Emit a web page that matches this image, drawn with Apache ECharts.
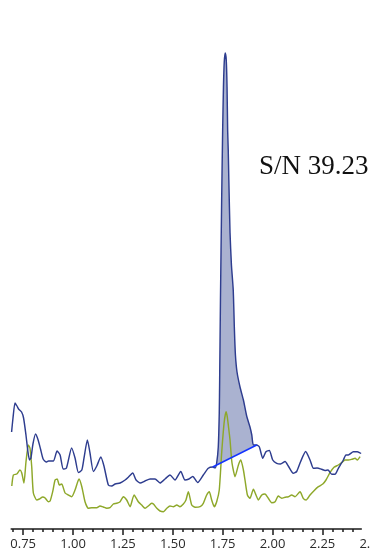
<!DOCTYPE html>
<html>
<head>
<meta charset="utf-8">
<script src="https://cdn.jsdelivr.net/npm/echarts@6/dist/echarts.min.js"></script>
<style>
  html, body { margin: 0; padding: 0; background: #ffffff; }
  #chart { width: 371px; height: 552px; }
</style>
</head>
<body>
<div id="chart"></div>
<script>
// Retention time (min) and detector response of the sample trace
const sampleTime = [
  0.692, 0.699, 0.709, 0.719, 0.727, 0.742, 0.752, 0.764, 0.774, 0.782, 0.789, 0.799,
  0.812, 0.825, 0.837, 0.850, 0.865, 0.877, 0.890, 0.902, 0.920, 0.935, 0.951, 0.967,
  0.993, 1.010, 1.027, 1.044, 1.055, 1.072, 1.085, 1.102, 1.119, 1.139, 1.155, 1.177,
  1.194, 1.211, 1.236, 1.261, 1.278, 1.299, 1.316, 1.336, 1.361, 1.386, 1.411, 1.436,
  1.461, 1.486, 1.511, 1.540, 1.561, 1.581, 1.600, 1.625, 1.653, 1.678, 1.700, 1.712,
  1.720, 1.728, 1.733, 1.735, 1.739, 1.745, 1.750, 1.754, 1.758, 1.763, 1.768, 1.772,
  1.775, 1.778, 1.781, 1.787, 1.794, 1.803, 1.809, 1.814, 1.822, 1.837, 1.854, 1.871,
  1.887, 1.896, 1.904, 1.921, 1.934, 1.951, 1.967, 1.984, 2.001, 2.021, 2.040, 2.063,
  2.079, 2.104, 2.121, 2.141, 2.166, 2.188, 2.205, 2.223, 2.247, 2.263, 2.278, 2.297,
  2.313, 2.330, 2.355, 2.368, 2.380, 2.405, 2.425, 2.444
];
const sampleSignal = [
  97, 111, 126, 123, 120, 117, 111, 94, 77, 69, 71, 85,
  95, 89, 80, 70, 67, 68, 68, 68, 78, 74, 60, 61,
  81, 71, 56.5, 59, 71, 89, 76, 57.5, 63, 72, 63, 44,
  43, 45, 46, 49, 52, 56, 49, 46, 48, 50, 50, 46,
  50, 54, 49, 57.5, 49, 50, 52.5, 46.5, 54, 60.7, 62, 61,
  66, 82, 116, 149, 229, 329, 399, 442, 467, 476, 469, 442,
  399, 379, 349, 296, 264, 239, 199, 174, 157, 142, 129, 112.5,
  102, 94, 84, 84, 82, 70.7, 77.3, 78.5, 69, 65.7, 65, 67.5,
  63, 55.7, 57.5, 67.5, 77.5, 69, 60.7, 61, 59.7, 58.5, 59, 54.7,
  54.7, 60.7, 69, 74, 74, 77.3, 77.3, 75.5
];

// Retention time (min) and detector response of the blank trace
const blankTime = [
  0.693, 0.701, 0.718, 0.734, 0.743, 0.754, 0.764, 0.776, 0.784, 0.793, 0.801, 0.818,
  0.831, 0.848, 0.860, 0.876, 0.885, 0.898, 0.910, 0.921, 0.931, 0.943, 0.960, 0.976,
  0.993, 1.010, 1.030, 1.044, 1.060, 1.077, 1.094, 1.119, 1.135, 1.152, 1.169, 1.185,
  1.202, 1.219, 1.236, 1.252, 1.269, 1.286, 1.306, 1.327, 1.344, 1.361, 1.377, 1.394,
  1.403, 1.420, 1.436, 1.453, 1.470, 1.486, 1.503, 1.520, 1.536, 1.553, 1.566, 1.578,
  1.595, 1.612, 1.637, 1.653, 1.670, 1.683, 1.695, 1.708, 1.720, 1.733, 1.745, 1.757,
  1.767, 1.773, 1.783, 1.787, 1.795, 1.800, 1.812, 1.829, 1.841, 1.854, 1.862, 1.874,
  1.887, 1.904, 1.917, 1.929, 1.946, 1.962, 1.979, 1.996, 2.013, 2.029, 2.046, 2.063,
  2.079, 2.096, 2.113, 2.138, 2.154, 2.168, 2.188, 2.208, 2.230, 2.252, 2.268, 2.288,
  2.308, 2.330, 2.347, 2.363, 2.380, 2.397, 2.414, 2.425, 2.439
];
const blankSignal = [
  43, 54, 55, 59, 56, 46, 67, 84, 81, 62, 36, 29,
  30, 32, 31, 27.3, 28, 37.3, 49, 50, 44, 45, 36, 34,
  32.3, 39, 50, 42.3, 27.3, 20.7, 21.3, 21.3, 23, 22, 20.7, 21.3,
  25, 25.7, 27.3, 32.3, 29, 22.3, 34, 27.3, 24, 20.7, 23, 25.7,
  25, 20.7, 18, 17.3, 20.7, 23, 22.3, 24, 22.3, 25, 29, 37.3,
  24, 21.7, 22.3, 25.7, 34, 37.3, 29, 22.3, 27.3, 39, 76, 105.7,
  117.3, 112.3, 96, 89, 69, 62.3, 52.3, 64, 69, 59, 49, 34,
  30.7, 39.7, 34, 29, 34, 35, 30.7, 26.3, 27.3, 33, 30.7, 31.7,
  32.3, 34, 32.3, 37.3, 30.7, 29, 34, 38.3, 42.3, 45, 49, 56.3,
  61.7, 64, 66.3, 69, 69, 69.7, 70.7, 69, 72.3
];

// Integration baseline under the main peak (start and end points)
const baselineTime = [1.700, 1.921];
const baselineSignal = [62, 84];

// Axis ticks
const majorTicks = [0.75, 1.00, 1.25, 1.50, 1.75, 2.00, 2.25];
const minorTicks = [
  0.70, 0.80, 0.85, 0.90, 0.95, 1.05, 1.10, 1.15, 1.20, 1.30, 1.35, 1.40, 1.45,
  1.55, 1.60, 1.65, 1.70, 1.80, 1.85, 1.90, 1.95, 2.05, 2.10, 2.15, 2.20, 2.30,
  2.35, 2.40, 2.45
];
const edgeTickLabel = 2.50;
const snText = 'S/N 39.23';

const zip = (xs, ys) => xs.map((x, i) => [x, ys[i]]);
const sampleData = zip(sampleTime, sampleSignal);
const blankData = zip(blankTime, blankSignal);
const baselineData = zip(baselineTime, baselineSignal);
// integrated region: sample trace between the baseline end points
const peakData = sampleData.filter(p => p[0] >= baselineTime[0] && p[0] <= baselineTime[1]);

const X_MIN = 0.69, X_MAX = 2.445;
const labelFont = { fontFamily: 'Open Sans', fontSize: 13, color: '#2a2a2a' };

const chart = echarts.init(document.getElementById('chart'), null, { renderer: 'canvas' });
chart.setOption({
  animation: false,
  backgroundColor: '#ffffff',
  grid: { left: 11.2, right: 9.7, top: 29, bottom: 23, containLabel: false },
  xAxis: [
    {
      type: 'value', min: X_MIN, max: X_MAX,
      splitLine: { show: false },
      axisLine: { show: true, lineStyle: { color: '#1a1a1a', width: 1.5 } },
      axisTick: { show: true, customValues: majorTicks, length: 6, lineStyle: { color: '#1a1a1a', width: 1.5 } },
      axisLabel: {
        show: true, customValues: majorTicks, margin: 9,
        formatter: v => v.toFixed(2), ...labelFont
      }
    },
    {
      type: 'value', min: X_MIN, max: X_MAX, position: 'bottom',
      splitLine: { show: false },
      axisLine: { show: false },
      axisTick: { show: true, customValues: minorTicks, length: 3, lineStyle: { color: '#1a1a1a', width: 1.5 } },
      axisLabel: { show: false }
    }
  ],
  yAxis: { type: 'value', min: 0, max: 500, show: false, splitLine: { show: false } },
  series: [
    {
      type: 'custom',
      name: 'peak area',
      coordinateSystem: 'cartesian2d',
      data: [0],
      z: 1,
      silent: true,
      renderItem: (params, api) => ({
        type: 'polygon',
        shape: { points: peakData.map(p => api.coord(p)) },
        style: { fill: '#aab2d0', stroke: 'none' }
      })
    },
    {
      type: 'line', name: 'sample', data: sampleData, xAxisIndex: 0,
      showSymbol: false, smooth: 0.2, z: 3,
      lineStyle: { color: '#2e3d8f', width: 1.45 }
    },
    {
      type: 'line', name: 'blank', data: blankData, xAxisIndex: 0,
      showSymbol: false, smooth: 0.2, z: 2,
      lineStyle: { color: '#8ea82a', width: 1.45 }
    },
    {
      type: 'line', name: 'baseline', data: baselineData, xAxisIndex: 0,
      showSymbol: false, z: 4,
      lineStyle: { color: '#1233ff', width: 1.4 }
    }
  ]
});

// tick label at the right edge, past the end of the axis
const edgeX = chart.convertToPixel({ xAxisIndex: 0 }, edgeTickLabel);
chart.setOption({
  graphic: [
    {
      type: 'text', x: edgeX, y: 529 + 9,
      style: {
        text: edgeTickLabel.toFixed(2), align: 'center', verticalAlign: 'top',
        font: '13px "Open Sans"', fill: labelFont.color
      }
    },
    {
      type: 'text', x: 259, y: 167,
      style: {
        text: snText, align: 'left', verticalAlign: 'middle',
        font: '27px "Liberation Serif"', fill: '#111111'
      }
    }
  ]
});
</script>
</body>
</html>
